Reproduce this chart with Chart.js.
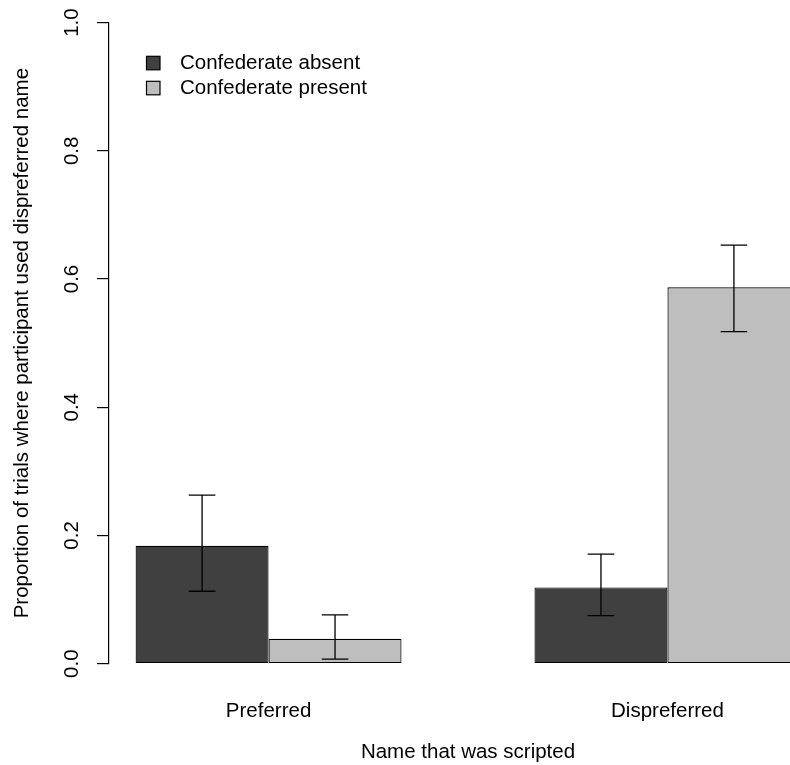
<!DOCTYPE html>
<html>
<head>
<meta charset="utf-8">
<script src="https://cdn.jsdelivr.net/npm/chart.js@4/dist/chart.umd.min.js"></script>
<style>
  html, body { margin: 0; padding: 0; background: #fff; overflow: hidden; }
  #wrap { width: 790px; height: 765px; overflow: hidden; position: relative; }
  canvas { display: block; }
</style>
</head>
<body>
<div id="wrap"><canvas id="c" width="827" height="765"></canvas></div>
<script>
// ---- data ----
const categories = ['Preferred', 'Dispreferred'];
const seriesNames = ['Confederate absent', 'Confederate present'];
const absentValues  = [0.184, 0.119];
const presentValues = [0.039, 0.587];
const absentLower   = [0.113, 0.075];
const absentUpper   = [0.263, 0.171];
const presentLower  = [0.007, 0.518];
const presentUpper  = [0.076, 0.653];
const yTickValues   = [0.0, 0.2, 0.4, 0.6, 0.8, 1.0];

// ---- R barplot style layout (beside=TRUE: group space 1, bar width 1) ----
const nSeries = 2;
const groupWidth = nSeries + 1;
const groupCenter = (i) => 1 + groupWidth * i + nSeries / 2;
const xLeft = 1, xRight = groupWidth * categories.length;
const xPad = 0.04 * (xRight - xLeft);

const FONT = "'Liberation Sans', Arial, Helvetica, sans-serif";
const FS = 20.5;
Chart.defaults.color = '#000';
Chart.defaults.font.family = FONT;

const errorBars = {
  id: 'errorBars',
  afterDatasetsDraw(chart) {
    const ctx = chart.ctx;
    const y = chart.scales.y;
    chart.data.datasets.forEach((ds, di) => {
      const meta = chart.getDatasetMeta(di);
      meta.data.forEach((bar, i) => {
        const lo = y.getPixelForValue(ds.errLower[i]);
        const hi = y.getPixelForValue(ds.errUpper[i]);
        const half = bar.width * 0.1;
        ctx.save();
        ctx.strokeStyle = '#000';
        ctx.lineWidth = 1.3;
        ctx.beginPath();
        ctx.moveTo(bar.x, lo); ctx.lineTo(bar.x, hi);
        ctx.moveTo(bar.x - half, lo); ctx.lineTo(bar.x + half, lo);
        ctx.moveTo(bar.x - half, hi); ctx.lineTo(bar.x + half, hi);
        ctx.stroke();
        ctx.restore();
      });
    });
  }
};

const rLegend = {
  id: 'rLegend',
  afterDraw(chart, args, opts) {
    const ctx = chart.ctx;
    const a = chart.chartArea;
    ctx.save();
    ctx.font = FS + 'px ' + FONT;
    ctx.textBaseline = 'middle';
    ctx.textAlign = 'left';
    chart.data.datasets.forEach((ds, i) => {
      const cy = a.top + opts.firstRow + i * opts.rowGap;
      const bx = a.left + opts.boxLeft;
      ctx.fillStyle = ds.backgroundColor;
      ctx.fillRect(bx, cy - opts.box / 2, opts.box, opts.box);
      ctx.strokeStyle = '#000';
      ctx.lineWidth = 1.2;
      ctx.strokeRect(bx, cy - opts.box / 2, opts.box, opts.box);
      ctx.fillStyle = '#000';
      ctx.fillText(ds.label, a.left + opts.textLeft, cy);
    });
    ctx.restore();
  }
};

const toPoints = (vals) => vals.map((v, i) => ({ x: groupCenter(i), y: v }));

new Chart(document.getElementById('c'), {
  type: 'bar',
  data: {
    datasets: [
      {
        label: seriesNames[0],
        data: toPoints(absentValues),
        errLower: absentLower, errUpper: absentUpper,
        backgroundColor: '#404040',
        borderColor: '#000',
        borderWidth: 1.2,
        borderSkipped: false
      },
      {
        label: seriesNames[1],
        data: toPoints(presentValues),
        errLower: presentLower, errUpper: presentUpper,
        backgroundColor: '#bebebe',
        borderColor: '#000',
        borderWidth: 1.2,
        borderSkipped: false
      }
    ]
  },
  options: {
    responsive: false,
    animation: false,
    layout: { padding: { left: 0, top: 22, right: 0, bottom: 0 } },
    datasets: { bar: { categoryPercentage: nSeries / groupWidth, barPercentage: 1 } },
    plugins: {
      legend: { display: false },
      tooltip: { enabled: false },
      rLegend: { boxLeft: 37.5, box: 13.5, textLeft: 71, firstRow: 40.5, rowGap: 25 }
    },
    scales: {
      x: {
        type: 'linear',
        offset: false,
        min: xLeft - xPad,
        max: xRight + xPad,
        afterBuildTicks: (s) => { s.ticks = categories.map((c, i) => ({ value: groupCenter(i) })); },
        afterFit: (s) => { s.height = 101.3; },
        grid: { display: false, offset: false },
        border: { display: false },
        ticks: {
          autoSkip: false, maxRotation: 0, minRotation: 0,
          padding: 27,
          font: { size: FS, family: FONT },
          callback: (v, i) => categories[i]
        },
        title: {
          display: true, text: 'Name that was scripted',
          font: { size: FS, family: FONT },
          padding: { top: 0, bottom: 0 }
        }
      },
      y: {
        min: 0, max: 1,
        afterBuildTicks: (s) => { s.ticks = yTickValues.map(v => ({ value: v })); },
        afterFit: (s) => { s.width = 109; },
        grid: { drawOnChartArea: false, drawTicks: true, tickLength: 12, color: '#000', lineWidth: 1.2 },
        border: { display: true, color: '#000', width: 1.2 },
        ticks: {
          minRotation: 90, maxRotation: 90,
          crossAlign: 'center',
          padding: 10.25,
          font: { size: FS, family: FONT },
          callback: (v) => Number(v).toFixed(1)
        },
        title: {
          display: true,
          text: 'Proportion of trials where participant used dispreferred name',
          font: { size: FS, family: FONT },
          padding: { top: 9.7, bottom: 0 }
        }
      }
    }
  },
  plugins: [errorBars, rLegend]
});
</script>
</body>
</html>
